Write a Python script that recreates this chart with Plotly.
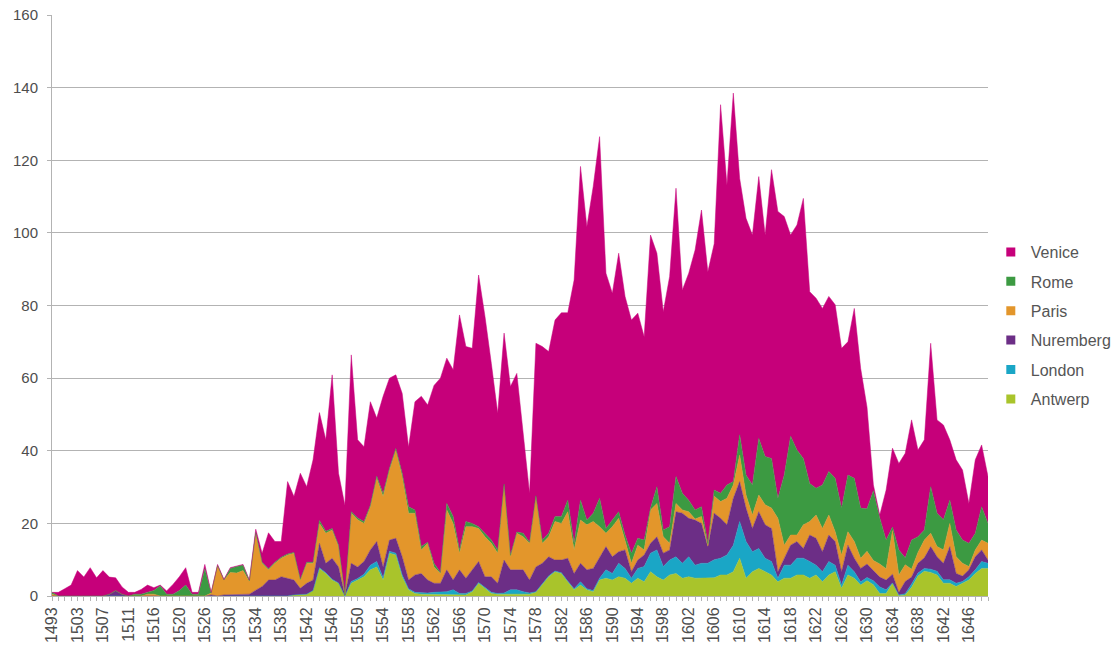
import plotly.graph_objects as go

years = ([1493, 1500, 1501, 1502] + list(range(1503, 1512)) + [1512, 1513, 1515]
         + list(range(1516, 1521)) + [1521, 1523, 1524] + list(range(1526, 1650)))
categories = [str(y) for y in years]

antwerp = [0, 0, 0, 0, 0, 0, 0, 0, 0, 0, 0, 0, 0, 0, 0, 0, 0, 0, 0, 0, 0, 0, 0, 0, 0, 0, 0, 0, 0, 0,
           0, 0, 0, 0, 0, 0, 0, 0, 0.3, 0.3, 0.5, 1.5, 7.6, 6.2, 4.4, 3.5, 0, 3.5, 4.4, 5.3,
           7.2, 8, 4.4, 11.8, 11.3, 5.3, 1.7, 0.7, 0.5, 0.5, 0.5, 0.5, 0.5, 0.5, 0.3, 0.3, 1.2, 3.5, 2.1, 0.7,
           0.5, 0.5, 0.5, 0.5, 0.5, 0.5, 1, 3, 5.3, 6.7, 6.2, 3.9, 1.7, 3, 1.7, 1.2, 4.4, 4.9, 4.4, 5.3,
           4.9, 3.5, 4.9, 3.9, 6.7, 5.3, 4.4, 5.8, 6.2, 4.9, 5.3, 4.9, 4.9, 4.9, 5, 5.8, 5.8, 6.7, 10.4, 4.9,
           6.7, 7.6, 6.7, 5.8, 3.9, 4.9, 4.9, 5.8, 5.8, 4.9, 5.8, 3.9, 5.8, 6.7, 2.1, 5.8, 4.9, 3, 4.2, 3.1,
           0.7, 0.7, 3.5, 0.1, 0.3, 2.4, 5.5, 6.8, 6.5, 5.8, 3.5, 3.5, 2.6, 3.5, 4.4, 6.2, 7.6, 7.6]
london = [0, 0, 0, 0, 0, 0, 0, 0, 0, 0, 0, 0, 0, 0, 0, 0, 0, 0, 0, 0, 0, 0, 0, 0, 0, 0, 0, 0, 0, 0,
          0, 0, 0, 0, 0, 0, 0, 0, 0, 0, 0, 0, 0.2, 0.2, 0.2, 0.1, 0, 0.5, 0.4, 0.7,
          1.3, 1.5, 0.6, 0.5, 0.5, 0.5, 0.3, 0.3, 0.3, 0.3, 0.5, 0.7, 0.7, 1.2, 0.4, 0.4, 0.2, 0.2, 0.3, 0.3,
          0.2, 0.3, 1.2, 1.2, 0.7, 0.3, 0.2, 0.2, 0.2, 0.2, 0.2, 0.2, 0.3, 0.9, 0.3, 0.3, 0.5, 2.3, 1.8, 3.7,
          2.7, 1.4, 2.7, 4.2, 5.1, 7.4, 3.7, 4.1, 4.6, 4.1, 5.5, 3.6, 4.1, 4.1, 5, 4.6, 5.5, 7.3, 10.1, 10.1,
          5.5, 5.5, 3.7, 3.7, 1, 3.6, 3.6, 4.6, 4.6, 4.6, 2.7, 2.8, 3.7, 1.8, 0.9, 2.7, 1.8, 0.9, 0.9, 1.1,
          1.8, 1, 0.1, 0.2, 0.3, 0.9, 0.8, 0.8, 0.9, 1, 1, 1, 0.9, 0.5, 0.9, 1, 1.9, 1.4]
nuremberg = [0, 0, 0, 0, 0, 0, 0, 0, 0, 0.5, 1.5, 0.5, 0, 0, 0, 0, 0, 0, 0, 0, 0, 0, 0, 0, 0, 0.3, 0, 0.3, 0.3, 0.5,
             0.5, 0.5, 1.6, 2.6, 4.4, 4.4, 5.3, 4.9, 4.1, 1.8, 3, 2.9, 6.7, 2.6, 5.8, 4.4, 0.3, 5, 3.2, 3.5,
             4.2, 5.5, 3, 3.1, 4.1, 5, 2.4, 4.8, 5.4, 3.6, 2.5, 2.3, 6, 2.7, 6.5, 4.2, 5.8, 5.8, 2.9, 4.3,
             2.8, 9.1, 5.5, 5.5, 6, 3.6, 6.8, 5.8, 5.3, 3, 3.5, 6.3, 4.2, 5.1, 5.2, 6.1, 5.9, 6.4, 4.6, 3.2,
             5.1, 1.8, 2.3, 3.2, 2.7, 3.6, 3.7, 2.8, 12.4, 13.8, 10.6, 12.4, 11, 4.6, 12.8, 11, 8.3, 12.9, 11, 9.2,
             6.4, 10.1, 9.2, 9.1, 1.8, 1.9, 5.5, 4.6, 2.7, 7.3, 7.4, 5.5, 7.3, 6.5, 3.7, 5.5, 3.7, 3.7, 3.7, 2.8,
             2.7, 2.7, 2.4, 0.7, 3.4, 1.9, 2.7, 2.9, 6.2, 4, 4.5, 9.1, 2.7, 1.5, 1.9, 3.6, 3.2, 0.9]
paris = [0.5, 0, 0, 0, 0, 0, 0, 0, 0, 0, 0, 0, 0, 0, 0, 0.5, 0.5, 0, 0, 0, 0, 0, 0, 0, 0, 0.5, 8.2, 4.1, 6.2, 5.8,
         6.5, 3.5, 15.4, 6.4, 2.8, 4.6, 5.1, 6.4, 7.4, 2.3, 5.5, 4.6, 5.5, 8.3, 7.8, 5.6, 0.2, 13.8, 13, 10.5,
         11.9, 17.4, 19.4, 19.3, 24.3, 22.1, 18.4, 17, 6.5, 10.1, 4.5, 2.7, 16.5, 15.6, 4.6, 14.2, 11.9, 9.1, 11, 9.2,
         8.3, 20.7, 3.6, 10.1, 9.1, 10.1, 19.4, 5.5, 5.5, 10.6, 10.1, 12.8, 6.5, 11.9, 12.4, 12.9, 8.3, 3.7, 8.3, 9.2,
         2.3, 2.3, 4.1, 1.4, 9.2, 9.2, 4.5, 1.8, 2.3, 0.9, 1.8, 0.3, 1.9, 0.2, 4.7, 4.6, 7.3, 3.7, 7.3, 3.6,
         3.7, 4.6, 5.5, 5.6, 14.7, 3.6, 2.8, 1.8, 6.5, 3.7, 6.4, 6.4, 5.5, 2.7, 4.6, 3.7, 4.6, 2.8, 3.5, 2.8,
         3.6, 3.1, 12, 4.8, 4.6, 2.2, 3, 4.9, 3.7, 2.8, 3.7, 6.4, 4.6, 3.5, 0.9, 1.9, 2.7, 4.6]
rome = [0.5, 0, 0, 0, 0, 0, 0, 0, 0, 0, 0, 0, 0, 0.5, 0.5, 0.5, 1, 2.8, 0.5, 0.5, 1.5, 3, 0.5, 0.5, 7.5, 0, 0.2, 0, 1.1, 1.8,
        1.5, 0.2, 0.5, 0.3, 0.3, 0.3, 0.3, 0.3, 0.2, 0.2, 0.3, 0.3, 0.8, 0.5, 0.4, 0.4, 0.1, 0.4, 0.5, 0.5,
        0.4, 0.6, 0.8, 0.5, 0.4, 0.9, 1.8, 0.9, 0.9, 0.3, 1, 0.3, 1.8, 1.9, 0.9, 1.4, 0.9, 0.5, 1, 0.9,
        0.9, 0.2, 0.4, 0.3, 1, 0.3, 0.2, 0.9, 1, 1.4, 1.9, 3.2, 1.8, 5.5, 1.3, 2.3, 7.8, 1.3, 1.8, 1.8,
        1.8, 2.8, 1.9, 2.7, 0.5, 4.6, 1.9, 4.6, 7.4, 4.6, 3.2, 2.5, 2.7, 0.7, 1.7, 2.3, 3.7, 0.9, 5.6, 5.5,
        8.3, 15.6, 13.3, 13.7, 5.5, 19.3, 27.2, 23.4, 18.3, 10.5, 7.4, 12, 12, 14.7, 12.9, 15.6, 17.4, 13.8, 11.7, 19.2,
        12.7, 7.9, 1, 6.9, 1.9, 8, 4.3, 2.8, 12.8, 9.2, 8.3, 6.4, 7.4, 6.4, 6.4, 4.6, 9.2, 5.5]
venice = [0, 1, 2, 3, 7, 5.2, 7.8, 5, 7, 4.7, 3.5, 2, 1, 0.5, 1.3, 2, 0.8, 0.2, 0.9, 2.7, 3.8, 4.8, 0.5, 0.5, 1.2, 0.2, 0.3, 0.2, 0.2, 0.2,
          0.2, 0.2, 0.9, 2.5, 9.9, 5.7, 4.3, 19.9, 15.4, 29.2, 20.8, 28.2, 29.7, 25.2, 42.3, 19.8, 24.4, 43.2, 21.5, 20.6,
          28.5, 16, 26.8, 24.8, 20.3, 22, 16.4, 29.8, 41.4, 37.8, 49, 53.5, 40, 40.4, 64.7, 48.2, 48.2, 69.3, 59.7, 48.6,
          37.6, 41.6, 46.5, 43.7, 26.6, 13.5, 42, 53.3, 50, 54.1, 56.1, 51.6, 72.5, 91.9, 80.8, 90, 99.6, 70.3, 62.5, 71.2,
          65.7, 64.2, 62, 56, 75.2, 64.3, 60.1, 68.9, 79.4, 56, 62.5, 71.6, 81.7, 74.8, 67.8, 107, 82.6, 107, 70.6, 70.7,
          68.8, 72.1, 61, 79.5, 79, 71.2, 55.4, 62, 71.6, 52.8, 52.3, 48.6, 48.2, 47.8, 44, 36.7, 46.8, 38.5, 28, 1.6,
          0.8, 13.8, 21.7, 23.8, 28.8, 33.1, 23.9, 24.8, 39.5, 25.7, 26.1, 16.6, 19.3, 19.3, 11, 20.2, 17, 12.9]

series = [
    ("Antwerp", antwerp, "#A9C42B"),
    ("London", london, "#1AA6C6"),
    ("Nuremberg", nuremberg, "#6C2E86"),
    ("Paris", paris, "#E3962B"),
    ("Rome", rome, "#3C9A42"),
    ("Venice", venice, "#C6007A"),
]

tick_text = [c if i % 4 == 0 else "" for i, c in enumerate(categories)]

fig = go.Figure()
for name, vals, color in series:
    fig.add_trace(go.Scatter(
        x=categories, y=vals, name=name, mode="lines",
        stackgroup="one", line=dict(color=color, width=0.5),
        fillcolor=color, showlegend=False, hoverinfo="x+y+name"))

for name, vals, color in reversed(series):
    fig.add_trace(go.Scatter(
        x=[None], y=[None], name=name, mode="markers",
        marker=dict(symbol="square", size=9, color=color),
        legendgroup=name, showlegend=True))

fig.update_layout(
    width=1112, height=645,
    margin=dict(l=52, r=124, t=15, b=49, autoexpand=False),
    paper_bgcolor="white", plot_bgcolor="white",
    font=dict(family="Liberation Sans, Arial, sans-serif", color="#555555"),
    legend=dict(x=1.003, y=0.6213, xanchor="left", yanchor="top",
                font=dict(size=16, color="#555555"),
                traceorder="grouped", tracegroupgap=5.6,
                itemwidth=30, bgcolor="rgba(0,0,0,0)"),
    xaxis=dict(type="category", range=[0, len(categories) - 1],
               tickmode="array", tickvals=categories, ticktext=tick_text,
               tickangle=-90, tickfont=dict(size=16, color="#4d4d4d"),
               ticks="outside", ticklen=4, tickcolor="#b3b3b3",
               showline=True, linecolor="#b3b3b3", showgrid=False,
               automargin=False, ticklabeloverflow="allow"),
    yaxis=dict(range=[0, 160], dtick=20, tickfont=dict(size=15, color="#4d4d4d"),
               showgrid=True, gridcolor="#b3b3b3", gridwidth=1,
               showline=True, linecolor="#b3b3b3", zeroline=False,
               ticks="outside", ticklen=4, tickcolor="#b3b3b3",
               ticklabelstandoff=6, automargin=False, ticklabeloverflow="allow"),
)

# remove the browser's default 8px body margin so the figure fills the window exactly
fig.write_html("out.html",
               config={"displayModeBar": False},
               post_script="document.body.style.margin='0';document.body.style.overflow='hidden';")
